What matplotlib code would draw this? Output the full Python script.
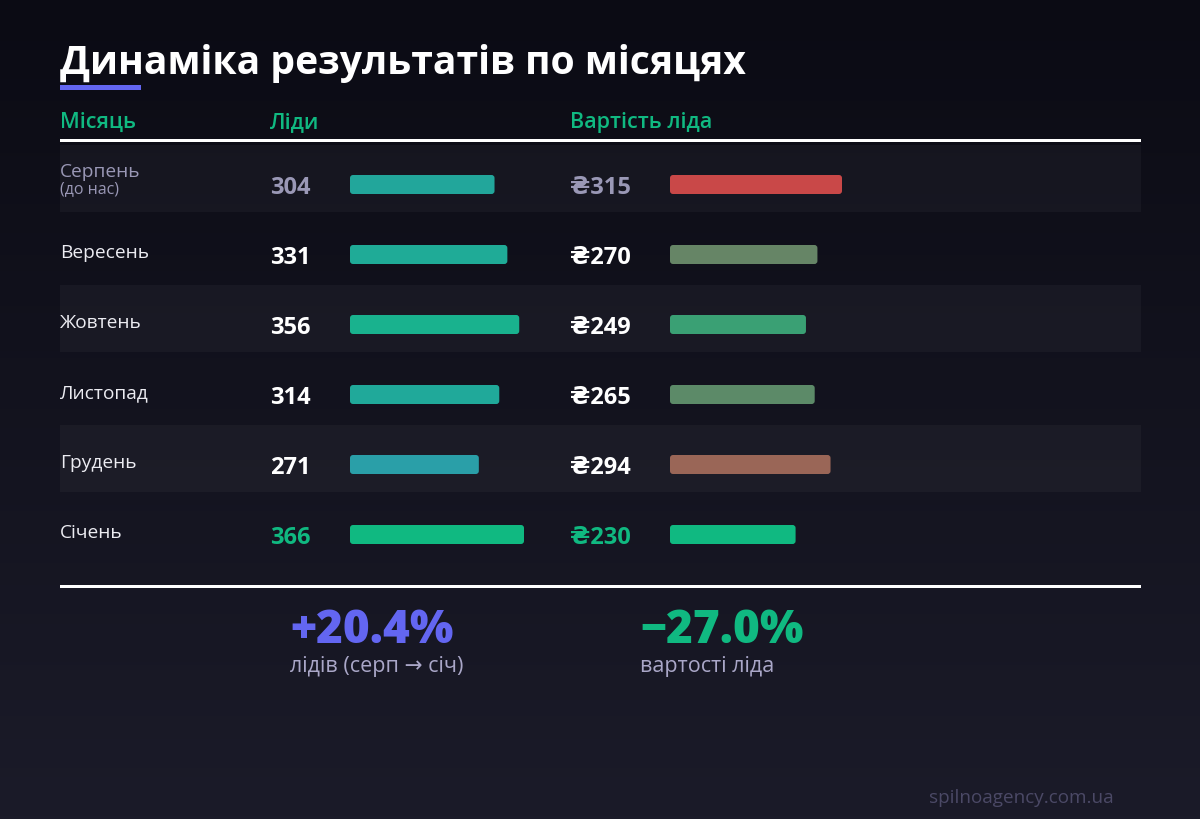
import numpy as np
import matplotlib
matplotlib.use("Agg")
import matplotlib.pyplot as plt
from matplotlib.patches import FancyBboxPatch, Rectangle
from matplotlib.colors import LinearSegmentedColormap

plt.rcParams['font.family'] = ['Open Sans', 'DejaVu Sans']

# --- дані ---
months = ["Серпень", "Вересень", "Жовтень", "Листопад", "Грудень", "Січень"]
month_note = "(до нас)"
leads = [304, 331, 356, 314, 271, 366]
cost = [315, 270, 249, 265, 294, 230]
leads_change = "+20.4%"
cost_change = "−27.0%"
title = "Динаміка результатів по місяцях"
headers = ["Місяць", "Ліди", "Вартість ліда"]
footer = "spilnoagency.com.ua"

# --- стиль ---
GREEN = "#10b981"
INDIGO = "#6366f1"
MUTED = "#9a98b6"
lead_colors = ["#22a69b", "#1fab97", "#19b28e", "#20a99a", "#2a9fa8", "#10b981"]
cost_colors = ["#c94848", "#668566", "#3aa074", "#5c8a68", "#9a6657", "#10b981"]

fig = plt.figure(figsize=(12, 8.2), dpi=100)
ax = fig.add_axes([0, 0, 1, 1])
ax.set_xlim(0, 1200)
ax.set_ylim(820, 0)
ax.axis("off")

# фон з градієнтом
cmap = LinearSegmentedColormap.from_list("bg", ["#0b0b14", "#1b1b29"])
grad = np.linspace(0, 1, 256).reshape(-1, 1)
ax.imshow(grad, extent=[0, 1200, 820, 0], aspect="auto", cmap=cmap, zorder=0)

# заголовок
ax.text(60, 74, title, color="white", fontsize=28.2, fontweight="bold", va="baseline", zorder=3)
ax.add_patch(Rectangle((60, 86), 81, 5, color=INDIGO, lw=0, zorder=3))

# шапка таблиці
for x, h in zip([60, 270, 570], headers):
    ax.text(x, 128, h, color=GREEN, fontsize=15.5, fontweight="semibold", va="baseline", zorder=3)
ax.add_patch(Rectangle((60, 140), 1081, 3, color="white", lw=0, zorder=3))

ROW_H = 70
Y0 = 185.5
LEAD_X, COST_X = 350, 670
lead_scale = 174 / max(leads)
cost_scale = 172 / max(cost)
BAR_H = 19

n = len(months)
for i in range(n):
    yc = Y0 + i * ROW_H
    if i % 2 == 0:
        ax.add_patch(Rectangle((60, yc - 39.5), 1081, 67, color="white", alpha=0.035, lw=0, zorder=1))

    if i == 0:
        ax.text(60, yc - 8.5, months[i], color=MUTED, fontsize=13.8, va="baseline", zorder=3)
        ax.text(60, yc + 8, month_note, color=MUTED, fontsize=11.5, va="baseline", zorder=3)
        num_color = MUTED
    else:
        ax.text(60, yc + 2.5, months[i], color="#ececf2", fontsize=13.8, va="baseline", zorder=3)
        num_color = GREEN if i == n - 1 else "white"

    ax.text(270, yc + 9, str(leads[i]), color=num_color, fontsize=17, fontweight="bold",
            va="baseline", zorder=3)
    ax.text(570, yc + 9, "₴" + str(cost[i]), color=num_color, fontsize=17, fontweight="bold",
            va="baseline", zorder=3)

    ax.add_patch(FancyBboxPatch((LEAD_X, yc - BAR_H / 2), leads[i] * lead_scale, BAR_H,
                                boxstyle="round,pad=0,rounding_size=3",
                                fc=lead_colors[i], ec="none", zorder=2))
    ax.add_patch(FancyBboxPatch((COST_X, yc - BAR_H / 2), cost[i] * cost_scale, BAR_H,
                                boxstyle="round,pad=0,rounding_size=3",
                                fc=cost_colors[i], ec="none", zorder=2))

ax.add_patch(Rectangle((60, 585.5), 1081, 3, color="white", lw=0, zorder=3))

# підсумки
ax.text(290, 643, leads_change, color=INDIGO, fontsize=33, fontweight="heavy", va="baseline", zorder=3)
ax.text(290, 672, "лідів (серп → січ)", color="#aaa7c8", fontsize=15.5, va="baseline", zorder=3)
ax.text(640, 643, cost_change, color=GREEN, fontsize=33, fontweight="heavy", va="baseline", zorder=3)
ax.text(640, 672, "вартості ліда", color="#aaa7c8", fontsize=15.5, va="baseline", zorder=3)

ax.text(1114, 803, footer, color="#4b4966", fontsize=13.6, ha="right", va="baseline", zorder=3)

fig.savefig("out.png", dpi=100, facecolor="#0b0b14")
